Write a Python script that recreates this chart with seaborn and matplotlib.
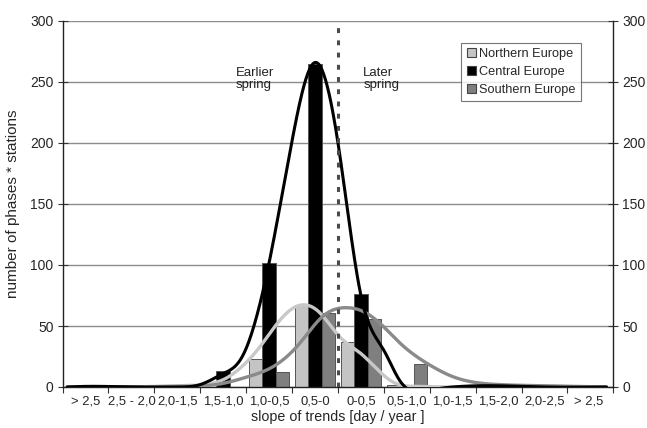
import numpy as np
import pandas as pd
import matplotlib
matplotlib.use("Agg")
import matplotlib.pyplot as plt
from matplotlib.patches import Patch
import seaborn as sns

# ---------------- data ----------------
categories = ["> 2,5", "2,5 - 2,0", "2,0-1,5", "1,5-1,0", "1,0-0,5", "0,5-0",
              "0-0,5", "0,5-1,0", "1,0-1,5", "1,5-2,0", "2,0-2,5", "> 2,5 "]
series_names = ["Northern Europe", "Central Europe", "Southern Europe"]
northern = [0, 0, 0, 0, 23, 67, 37, 2, 0, 0, 0, 0]
central = [1, 0, 0, 13, 102, 265, 76, 0, 0, 0, 0, 0]
southern = [0, 0, 0, 0, 12, 61, 56, 19, 2, 0, 0, 0]

# smoothed trend curves (position in category units, value)
north_curve_x = [-0.4, 1.0, 2.0, 2.75, 3.0, 3.37, 3.8, 4.24, 4.67, 5.1, 5.54, 5.98, 6.41, 6.7, 7.2, 8.0, 9.0, 10.0, 11.35]
north_curve_y = [0, 0, 1, 3, 6, 15.5, 33, 55, 67, 61, 41, 28, 12.5, 4, 0.5, 0, 1, 0.5, 0]
central_curve_x = [-0.4, 0.0, 1.0, 2.0, 2.5, 3.0, 3.4, 4.0, 4.5, 5.0, 5.5, 6.0, 6.5, 6.85, 7.2, 7.6, 8.0, 9.0, 10.0, 11.35]
central_curve_y = [0, 0.5, 0, 0, 2, 11, 24, 102, 202, 266, 200, 75, 30, 5, -4, -2, 0, 1, 0, 0]
south_curve_x = [-0.4, 1.0, 2.0, 3.0, 3.5, 4.1, 4.67, 5.17, 5.7, 5.98, 6.42, 6.85, 7.5, 8.0, 9.0, 10.0, 11.35]
south_curve_y = [0, 0, 0.5, 3, 8, 17, 36, 58, 65, 63, 52, 36, 18, 8.5, 2, 1, 0]

y_ticks = [0, 50, 100, 150, 200, 250, 300]

# ---------------- style ----------------
sns.set_style("white")
plt.rcParams["font.family"] = ["Liberation Sans", "DejaVu Sans"]

colors = {"Northern Europe": "#c4c4c4", "Central Europe": "#000000", "Southern Europe": "#7f7f7f"}
curve_colors = {"Northern Europe": "#c8c8c8", "Central Europe": "#000000", "Southern Europe": "#8a8a8a"}

df = pd.DataFrame({
    "category": categories * 3,
    "region": sum([[n] * len(categories) for n in series_names], []),
    "value": northern + central + southern,
})


def natural_spline(xs, ys, n=600):
    x = np.asarray(xs, float)
    y = np.asarray(ys, float)
    k = len(x)
    h = np.diff(x)
    A = np.zeros((k, k))
    r = np.zeros(k)
    A[0, 0] = A[-1, -1] = 1.0
    for i in range(1, k - 1):
        A[i, i - 1] = h[i - 1]
        A[i, i] = 2 * (h[i - 1] + h[i])
        A[i, i + 1] = h[i]
        r[i] = 6 * ((y[i + 1] - y[i]) / h[i] - (y[i] - y[i - 1]) / h[i - 1])
    m = np.linalg.solve(A, r)
    xx = np.linspace(x[0], x[-1], n)
    idx = np.clip(np.searchsorted(x, xx) - 1, 0, k - 2)
    x0, x1 = x[idx], x[idx + 1]
    hh = x1 - x0
    a = (x1 - xx) / hh
    b = (xx - x0) / hh
    yy = a * y[idx] + b * y[idx + 1] + ((a ** 3 - a) * m[idx] + (b ** 3 - b) * m[idx + 1]) * hh ** 2 / 6
    return xx, yy


fig = plt.figure(figsize=(6.47, 4.28), dpi=100)
ax = fig.add_axes([62.6 / 647, 1 - 387 / 428, 550.8 / 647, 366 / 428])

sns.barplot(data=df, x="category", y="value", hue="region", order=categories,
            hue_order=series_names, palette=colors, saturation=1, width=0.885,
            edgecolor="#555555", linewidth=0.7, ax=ax, legend=False, zorder=2)

for name, cx, cy in [("Northern Europe", north_curve_x, north_curve_y),
                     ("Southern Europe", south_curve_x, south_curve_y),
                     ("Central Europe", central_curve_x, central_curve_y)]:
    sx, sy = natural_spline(cx, cy)
    lw = 2.2 if name == "Central Europe" else 2.4
    ax.plot(sx, sy, color=curve_colors[name], lw=lw, zorder=4, solid_capstyle="round")

ax.axvline(5.5, color="#4a4a4a", lw=2.2, dashes=(1.6, 2.4), zorder=5)

ax.set_xlim(-0.5, 11.5)
ax.set_ylim(0, 300)
ax.set_yticks(y_ticks)
ax.yaxis.grid(True, color="#8c8c8c", lw=1.0)
ax.set_axisbelow(True)

# x ticks at category boundaries, labels at centers
ax.set_xticks(np.arange(-0.5, 12, 1.0))
ax.set_xticklabels([])
ax.set_xticks(np.arange(0, 12), minor=True)
ax.set_xticklabels(categories, minor=True, fontsize=9.4)
ax.tick_params(axis="x", which="major", direction="out", length=4, width=0.8, color="#333333", bottom=True)
ax.tick_params(axis="x", which="minor", length=0, pad=6)
ax.tick_params(axis="y", direction="inout", length=7, width=0.8, color="#333333",
               left=True, right=True, labelleft=True, labelright=True, labelsize=10, pad=3)

for side in ["left", "right", "bottom"]:
    ax.spines[side].set_visible(True)
    ax.spines[side].set_color("#222222")
    ax.spines[side].set_linewidth(1.0)
ax.spines["top"].set_visible(False)

ax.set_xlabel("slope of trends [day / year ]", fontsize=10.3, labelpad=2)
ax.set_ylabel("number of phases * stations", fontsize=11, labelpad=7)

ax.text(3.28, 262, "Earlier\nspring", fontsize=9.5, va="top", ha="left", linespacing=1.0, color="#222222")
ax.text(6.05, 262, "Later\nspring", fontsize=9.5, va="top", ha="left", linespacing=1.0, color="#222222")

handles = [Patch(facecolor=colors[n], edgecolor="#444444", linewidth=0.8, label=n) for n in series_names]
leg = ax.legend(handles=handles, loc="upper right", bbox_to_anchor=(0.941, 0.94), borderaxespad=0,
                fontsize=9.2, handlelength=0.75, handleheight=0.75, handletextpad=0.25,
                labelspacing=0.45, borderpad=0.4, frameon=True, fancybox=False)
leg.get_frame().set_edgecolor("#555555")
leg.get_frame().set_linewidth(0.8)
leg.set_zorder(6)

fig.savefig("out.png", dpi=100)
